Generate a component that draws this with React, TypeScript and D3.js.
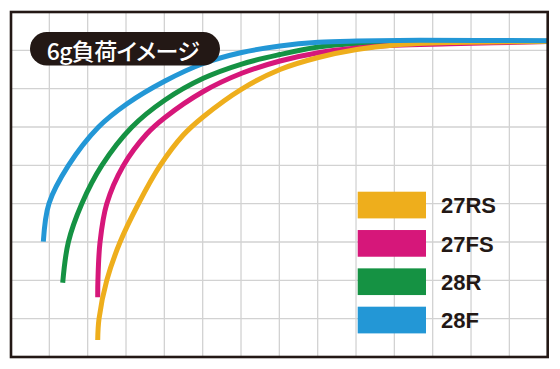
import React from 'react';
import * as d3 from 'd3';

// chart values in grid units (x: 0..14, y: 0..9)
const seriesNames = ['27RS', '27FS', '28R', '28F'];
const seriesColors = ['#eeae1c', '#d6177a', '#159243', '#2397d6'];

const rs27: [number, number][] = [
  [2.262, 0.443], [2.295, 0.991], [2.496, 1.99], [2.843, 2.992], [3.321, 3.991],
  [3.887, 4.99], [4.494, 5.791], [5.016, 6.269], [6.018, 6.991], [7.017, 7.5],
  [8.016, 7.813], [9.018, 8.022], [10.017, 8.139], [11.451, 8.202], [14.0, 8.228]
];
const fs27: [number, number][] = [
  [2.262, 1.557], [2.267, 1.99], [2.322, 2.992], [2.496, 3.991], [2.929, 4.99],
  [3.54, 5.817], [4.017, 6.248], [5.016, 6.926], [6.018, 7.401], [7.017, 7.722],
  [8.016, 7.938], [9.018, 8.061], [10.017, 8.131], [11.451, 8.17], [14.0, 8.228]
];
const r28: [number, number][] = [
  [1.349, 1.938], [1.495, 2.992], [1.844, 3.991], [2.366, 4.99], [3.149, 5.992],
  [4.017, 6.704], [5.016, 7.271], [6.018, 7.643], [7.017, 7.891], [8.016, 8.087],
  [9.018, 8.178], [10.669, 8.223], [14.0, 8.236]
];
const f28: [number, number][] = [
  [0.843, 3.008], [0.991, 4.004], [1.495, 4.99], [2.277, 5.992], [3.018, 6.6],
  [4.017, 7.2], [5.016, 7.657], [6.018, 7.943], [7.017, 8.113], [8.016, 8.21],
  [9.018, 8.243], [10.669, 8.262], [14.0, 8.249]
];
const seriesData = [rs27, fs27, r28, f28];
// which series sits on top: green, magenta, orange, then blue
const drawOrder = [2, 1, 0, 3];

const title = '6g負荷イメージ';

const App = () => {
  const width = 560;
  const height = 369;
  const frame = { left: 11, top: 12, right: 547.7, bottom: 357 };

  const x = d3.scaleLinear().domain([0, 14]).range([frame.left, frame.right]);
  const y = d3.scaleLinear().domain([0, 9]).range([frame.bottom, frame.top]);

  const line = d3
    .line<[number, number]>()
    .x(d => x(d[0]))
    .y(d => y(d[1]))
    .curve(d3.curveCatmullRom.alpha(0.5));

  const ink = '#231815';

  return (
    <svg
      width={width}
      height={height}
      style={{ position: 'absolute', left: 0, top: 0, background: '#fff' }}
    >
      <rect
        x={frame.left}
        y={frame.top}
        width={frame.right - frame.left}
        height={frame.bottom - frame.top}
        fill="#fff"
      />
      <g className="grid" stroke="#d2d2d2" strokeWidth={1.3}>
        {d3.range(1, 14).map(v => (
          <line key={'v' + v} x1={x(v)} x2={x(v)} y1={frame.top} y2={frame.bottom} />
        ))}
        {d3.range(1, 9).map(v => (
          <line key={'h' + v} x1={frame.left} x2={frame.right} y1={y(v)} y2={y(v)} />
        ))}
      </g>

      <g className="curves" fill="none" strokeWidth={5} strokeLinecap="butt">
        {drawOrder.map(i => (
          <path key={seriesNames[i]} d={line(seriesData[i])!} stroke={seriesColors[i]} />
        ))}
      </g>

      <rect
        x={frame.left}
        y={frame.top}
        width={frame.right - frame.left}
        height={frame.bottom - frame.top}
        fill="none"
        stroke={ink}
        strokeWidth={2.6}
      />

      <g className="title">
        <rect x={30} y={32} width={190} height={33.5} rx={16.75} fill={ink} />
        <text
          x={46.7}
          y={59.7}
          fill="#fff"
          fontFamily="'Noto Sans CJK JP', 'Noto Sans', sans-serif"
          fontWeight={500}
          fontSize={23}
          textLength={153}
          lengthAdjust="spacing"
          style={{ fontFeatureSettings: '"palt"' }}
        >
          {title}
        </text>
      </g>

      <g className="legend">
        {seriesNames.map((name, i) => (
          <g key={name} transform={`translate(357.7, ${191.7 + i * 38.33})`}>
            <rect width={68.3} height={26.7} fill={seriesColors[i]} />
            <text
              x={83.3}
              y={21.5}
              fill={ink}
              fontFamily="'Liberation Sans', Arial, sans-serif"
              fontWeight="bold"
              fontSize={22}
            >
              {name}
            </text>
          </g>
        ))}
      </g>
    </svg>
  );
};

export default App;
